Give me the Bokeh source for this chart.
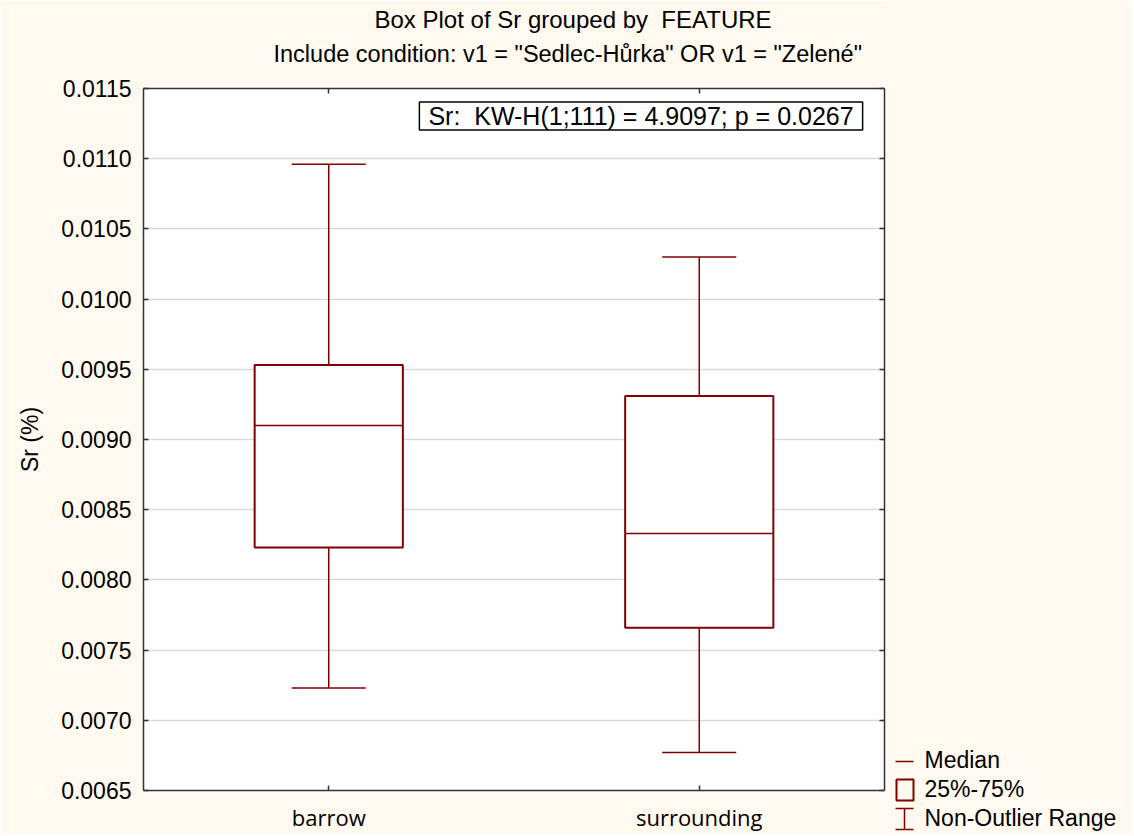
from bokeh.plotting import figure
from bokeh.models import (Range1d, LinearAxis, FixedTicker, Label, ColumnDataSource,
                          Grid, NumeralTickFormatter, Title)
from bokeh.layouts import row
from bokeh.core.properties import value
from bokeh.embed import file_html
from bokeh.resources import INLINE

# ---------------- data ----------------
categories = ["barrow", "surrounding"]
q1 = [0.00823, 0.00766]
medians = [0.00910, 0.00833]
q3 = [0.00953, 0.00931]
whisker_low = [0.00723, 0.00677]
whisker_high = [0.01096, 0.01030]

y_ticks = [0.0065, 0.0070, 0.0075, 0.0080, 0.0085, 0.0090, 0.0095,
           0.0100, 0.0105, 0.0110, 0.0115]
y_tick_labels = ["0.0065", "0.0070", "0.0075", "0.0080", "0.0085", "0.0090",
                 "0.0095", "0.0100", "0.0105", "0.0110", "0.0115"]

title1 = "Box Plot of Sr grouped by\u00a0 FEATURE"
title2 = 'Include condition: v1 = "Sedlec-Hůrka" OR v1 = "Zelené"'
stat_text = "Sr:\u00a0 KW-H(1;111) = 4.9097; p = 0.0267"
y_label = "Sr (%)"
legend_labels = ["Median", "25%-75%", "Non-Outlier Range"]

# ---------------- style ----------------
BG = "#FFF9EF"
RED = "#800000"
AX = "#333333"
FONT = "Liberation Sans"
CAT_FONT = "Open Sans"
FS = "23px"

positions = [i + 1 for i in range(len(categories))]
half_box = 0.2
half_cap = 0.1
Y0, Y1 = y_ticks[0], y_ticks[-1]
X0, X1 = 0.5, len(categories) + 0.5

src = ColumnDataSource(dict(
    x=positions,
    left=[x - half_box for x in positions],
    right=[x + half_box for x in positions],
    cl=[x - half_cap for x in positions],
    cr=[x + half_cap for x in positions],
    q1=q1, q3=q3, med=medians, lo=whisker_low, hi=whisker_high,
))

H = 834
FL, FR, FT, FB = 143, 884, 88, 790   # frame edges (px)

p = figure(width=FR + 4, height=H,
           x_range=Range1d(X0, X1), y_range=Range1d(Y0, Y1),
           x_axis_type=None, y_axis_type=None,
           output_backend="svg", toolbar_location=None,
           min_border_left=FL, min_border_right=4,
           min_border_top=FT, min_border_bottom=H - FB,
           background_fill_color="white", border_fill_color=BG,
           outline_line_color=None)
p.frame_align = False

ytick = FixedTicker(ticks=y_ticks)
xtick = FixedTicker(ticks=positions)
y_over = {t: s for t, s in zip(y_ticks, y_tick_labels)}
x_over = {pos: c for pos, c in zip(positions, categories)}

p.add_layout(Grid(dimension=1, ticker=ytick, grid_line_color="#D9D9D9",
                  grid_line_width=1.5))


def hide_labels(ax):
    ax.major_label_text_font_size = "0px"
    ax.major_label_text_color = None
    ax.major_label_standoff = 0
    return ax


def style_axis(ax, show):
    ax.major_tick_in = 5
    ax.major_tick_out = 0
    ax.minor_tick_in = 0
    ax.minor_tick_out = 0
    ax.axis_line_color = AX
    ax.axis_line_width = 1.5
    ax.major_tick_line_color = AX
    ax.major_tick_line_width = 1.5
    if not show:
        hide_labels(ax)
    return ax


left = style_axis(LinearAxis(ticker=ytick, major_label_overrides=y_over,
                             formatter=NumeralTickFormatter(format="0.0000")), True)
left.major_label_text_font = FONT
left.major_label_text_font_size = FS
left.major_label_text_color = "black"
left.major_label_standoff = 12
left.axis_label = y_label
left.axis_label_text_font = FONT
left.axis_label_text_font_size = FS
left.axis_label_text_font_style = "normal"
left.axis_label_text_color = "black"
left.axis_label_standoff = 15
p.add_layout(left, "left")

right = style_axis(LinearAxis(ticker=ytick), False)
p.add_layout(right, "right")

bottom = style_axis(LinearAxis(ticker=xtick, major_label_overrides=x_over), True)
bottom.major_label_text_font = CAT_FONT
bottom.major_label_text_font_size = "22px"
bottom.major_label_text_color = "black"
bottom.major_label_standoff = 11
p.add_layout(bottom, "below")

# top axis (closest to frame), then an invisible spacer axis, sub-title, main title
top = style_axis(LinearAxis(ticker=xtick), False)
p.add_layout(top, "above")
spacer = hide_labels(LinearAxis(ticker=xtick, axis_line_color=None,
                                major_tick_line_color=None, minor_tick_line_color=None,
                                major_tick_in=0, major_tick_out=19,
                                minor_tick_in=0, minor_tick_out=0))
p.add_layout(spacer, "above")
p.add_layout(Title(text=title2, align="left", offset=130, text_font=FONT,
                   text_font_size="23.5px", text_font_style="normal",
                   text_color="black", standoff=6), "above")
p.title.text = title1
p.title.align = "left"
p.title.offset = 231
p.title.text_font = FONT
p.title.text_font_size = "24px"
p.title.text_font_style = "normal"
p.title.text_color = "black"
p.title.standoff = 6

# boxes
p.quad(left="left", right="right", bottom="q1", top="q3", source=src,
       fill_color="white", line_color=RED, line_width=2)
p.segment(x0="left", x1="right", y0="med", y1="med", source=src,
          line_color=RED, line_width=1.5)
p.segment(x0="x", x1="x", y0="q3", y1="hi", source=src,
          line_color=RED, line_width=1.5)
p.segment(x0="x", x1="x", y0="q1", y1="lo", source=src,
          line_color=RED, line_width=1.5)
p.segment(x0="cl", x1="cr", y0="hi", y1="hi", source=src,
          line_color=RED, line_width=1.5)
p.segment(x0="cl", x1="cr", y0="lo", y1="lo", source=src,
          line_color=RED, line_width=1.5)


# reference-pixel -> data (annotation placement)
def dx(px):
    return X0 + (px - FL) / (FR - FL) * (X1 - X0)


def dy(py):
    return Y1 - (py - FT) / (FB - FT) * (Y1 - Y0)


p.add_layout(Label(x=dx(640.5), y=dy(115.5), text=stat_text, text_align="center",
                   text_baseline="middle", text_font=FONT, text_font_size="25px",
                   text_color="black", background_fill_color="white",
                   border_line_color="black", border_line_width=1.5,
                   padding=dict(left=9, right=9, top=0, bottom=0)))

# ---------------- legend panel ----------------
QW = 1132 - (FR + 4)
q = figure(width=QW, height=H, x_range=Range1d(0, QW), y_range=Range1d(H, 0),
           x_axis_type=None, y_axis_type=None, output_backend="svg",
           toolbar_location=None, min_border=0, outline_line_color=None,
           background_fill_color=BG, border_fill_color=BG)
q.frame_align = False

row_base = 768
row_gap = 29
rows_y = [row_base + i * row_gap for i in range(len(legend_labels))]
text_shift = 9
icon_l, icon_r, icon_c = 7, 25, 16
q.text(x=[36] * len(legend_labels), y=[r - text_shift for r in rows_y], text=legend_labels,
       text_font=value(FONT), text_font_size=FS, text_baseline="alphabetic",
       text_color="black")
# median icon
q.segment(x0=[icon_l], x1=[icon_r], y0=[rows_y[0] - 7], y1=[rows_y[0] - 7],
          line_color=RED, line_width=1.5)
# box icon
q.quad(left=[icon_l + 1], right=[icon_r], top=[rows_y[1] - 18], bottom=[rows_y[1] + 3],
       fill_color=None, line_color=RED, line_width=2)
# whisker icon
wt, wb = rows_y[2] - 18, rows_y[2] + 3
q.segment(x0=[icon_c, icon_l, icon_l], x1=[icon_c, icon_r, icon_r],
          y0=[wt, wt, wb], y1=[wb, wt, wb], line_color=RED, line_width=1.5)

layout = row(p, q)
open("out.html", "w").write(file_html(layout, INLINE))
